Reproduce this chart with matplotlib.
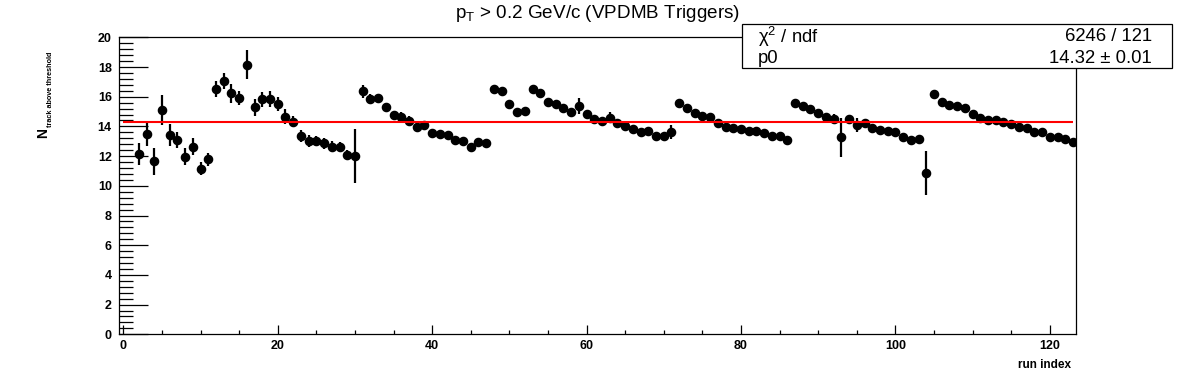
import numpy as np
import matplotlib
matplotlib.use("Agg")
import matplotlib.pyplot as plt
from matplotlib.patches import Rectangle
from matplotlib.ticker import MultipleLocator

plt.rcParams['font.family'] = ['Liberation Sans', 'DejaVu Sans']

# run index 2..123
run_index = list(range(2, 124))
n_track = [12.12, 13.49, 11.65, 15.11, 13.42, 13.09, 11.96, 12.64, 11.16, 11.78,
           16.50, 17.08, 16.23, 15.89, 18.14, 15.29, 15.83, 15.87, 15.51, 14.66,
           14.32, 13.36, 13.00, 13.04, 12.86, 12.64, 12.64, 12.10, 12.00, 16.37,
           15.83, 15.88, 15.30, 14.77, 14.65, 14.38, 13.94, 14.09, 13.58, 13.49,
           13.42, 13.08, 13.04, 12.59, 12.97, 12.90, 16.52, 16.38, 15.51, 14.99,
           15.06, 16.52, 16.23, 15.66, 15.51, 15.26, 14.99, 15.37, 14.84, 14.48,
           14.38, 14.59, 14.21, 14.05, 13.80, 13.60, 13.69, 13.38, 13.38, 13.60,
           15.60, 15.22, 14.92, 14.70, 14.65, 14.21, 13.98, 13.87, 13.80, 13.69,
           13.69, 13.58, 13.36, 13.38, 13.08, 15.60, 15.37, 15.15, 14.88, 14.65,
           14.50, 13.26, 14.52, 14.09, 14.21, 13.87, 13.76, 13.69, 13.64, 13.31,
           13.08, 13.13, 10.84, 16.18, 15.62, 15.44, 15.37, 15.22, 14.81, 14.59,
           14.43, 14.43, 14.28, 14.14, 13.94, 13.87, 13.60, 13.64, 13.26, 13.26,
           13.13, 12.97]
n_err = [0.75, 0.84, 0.92, 1.01, 0.76, 0.54, 0.58, 0.55, 0.45, 0.42,
         0.54, 0.55, 0.62, 0.47, 0.98, 0.56, 0.50, 0.53, 0.45, 0.52,
         0.37, 0.39, 0.39, 0.34, 0.35, 0.35, 0.33, 0.30, 1.80, 0.43,
         0.35, 0.30, 0.25, 0.22, 0.30, 0.30, 0.28, 0.28, 0.20, 0.20,
         0.20, 0.20, 0.20, 0.20, 0.20, 0.20, 0.20, 0.20, 0.20, 0.20,
         0.20, 0.20, 0.20, 0.20, 0.20, 0.20, 0.20, 0.53, 0.20, 0.20,
         0.20, 0.36, 0.20, 0.20, 0.20, 0.20, 0.20, 0.20, 0.20, 0.48,
         0.20, 0.20, 0.20, 0.20, 0.20, 0.20, 0.20, 0.20, 0.20, 0.20,
         0.20, 0.20, 0.20, 0.20, 0.20, 0.20, 0.20, 0.20, 0.20, 0.20,
         0.35, 1.31, 0.22, 0.47, 0.20, 0.20, 0.20, 0.20, 0.20, 0.20,
         0.20, 0.20, 1.48, 0.20, 0.20, 0.20, 0.20, 0.20, 0.20, 0.20,
         0.20, 0.20, 0.20, 0.20, 0.20, 0.20, 0.20, 0.20, 0.20, 0.20,
         0.20, 0.20]

# fit result (pol0)
p0 = 14.32
p0_err = 0.01
chi2 = 6246
ndf = 121

fig = plt.figure(figsize=(11.96, 3.72), dpi=100)
ax = fig.add_axes([0.0999, 0.1013, 0.7998, 0.7984])

ax.errorbar(run_index, n_track, yerr=n_err, fmt='o', color='black',
            markersize=5.9, elinewidth=1.6, capsize=0, zorder=3)
ax.hlines(p0, 0, 123, color='red', linewidth=1.5, zorder=4)

ax.set_xlim(-0.5, 123.4)
ax.set_ylim(0, 20)
ax.xaxis.set_major_locator(MultipleLocator(20))
ax.xaxis.set_minor_locator(MultipleLocator(5))
ax.yaxis.set_major_locator(MultipleLocator(2))
ax.yaxis.set_minor_locator(MultipleLocator(0.4))
ax.tick_params(axis='y', which='major', direction='in', length=20.8, width=0.9,
               labelsize=9, pad=5.5)
ax.tick_params(axis='y', which='minor', direction='in', length=10.3, width=0.9)
ax.tick_params(axis='x', which='major', direction='in', length=6.4, width=0.9,
               labelsize=9, pad=4)
ax.tick_params(axis='x', which='minor', direction='in', length=3.2, width=0.9)
for lab in ax.get_xticklabels() + ax.get_yticklabels():
    lab.set_fontweight('bold')
for sp in ax.spines.values():
    sp.set_linewidth(0.9)

# titles
fig.text(0.5, 0.963, r"p$_\mathregular{T}$ > 0.2 GeV/c (VPDMB Triggers)",
         ha='center', va='center', fontsize=13.6)
fig.text(1071 / 1196, 1 - 368 / 372, "run index", ha='right', va='baseline',
         fontsize=8.5, fontweight='bold')
fig.text(47 / 1196, 1 - 138 / 372, "N", rotation=90, rotation_mode='anchor',
         ha='left', va='baseline', fontsize=10, fontweight='bold')
fig.text(52 / 1196, 1 - 127 / 372, "track above threshold", rotation=90,
         rotation_mode='anchor', ha='left', va='baseline', fontsize=5.2,
         fontweight='bold')

# stats box
box = Rectangle((0.6202, 0.8164), 0.3595, 0.1183, transform=fig.transFigure,
                facecolor='white', edgecolor='black', linewidth=0.9, zorder=5)
fig.patches.append(box)
fig.text(0.634, 0.9013, r"χ$^\mathregular{2}$ / ndf", ha='left', va='center',
         fontsize=13.3, zorder=6)
fig.text(0.634, 0.844, "p0", ha='left', va='center', fontsize=13.3, zorder=6)
fig.text(0.963, 0.9013, f"{chi2} / {ndf}", ha='right', va='center',
         fontsize=13.3, zorder=6)
fig.text(0.963, 0.844, f"{p0:.2f} ± {p0_err:.2f}", ha='right', va='center',
         fontsize=13.3, zorder=6)

fig.savefig("out.png", dpi=100)
